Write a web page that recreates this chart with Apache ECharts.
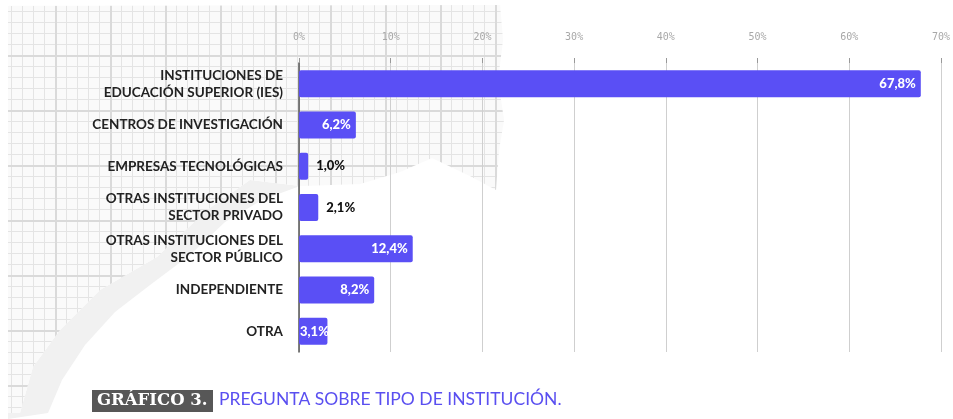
<!DOCTYPE html>
<html>
<head>
<meta charset="utf-8">
<script src="https://cdn.jsdelivr.net/npm/echarts@6/dist/echarts.min.js"></script>
<style>html,body{margin:0;padding:0;background:#fff;}#c{width:953px;height:419px;}</style>
</head>
<body>
<div id="c"></div>
<script>
const categories = [
  "INSTITUCIONES DE\nEDUCACIÓN SUPERIOR (IES)",
  "CENTROS DE INVESTIGACIÓN",
  "EMPRESAS TECNOLÓGICAS",
  "OTRAS INSTITUCIONES DEL\nSECTOR PRIVADO",
  "OTRAS INSTITUCIONES DEL\nSECTOR PÚBLICO",
  "INDEPENDIENTE",
  "OTRA"
];
const values = [67.8, 6.2, 1.0, 2.1, 12.4, 8.2, 3.1];
const labelPlacement = ['insideRight', 'insideRight', 'right', 'right', 'insideRight', 'insideRight', 'insideLeft'];
const tickValues = [0, 10, 20, 30, 40, 50, 60, 70];
const captionTag = "GRÁFICO 3.";
const captionText = "PREGUNTA SOBRE TIPO DE INSTITUCIÓN.";

// grid-paper pattern
const tile = document.createElement('canvas');
tile.width = 55; tile.height = 55;
const g = tile.getContext('2d');
g.fillStyle = '#fafafa'; g.fillRect(0,0,55,55);
g.fillStyle = '#e4e4e4';
for (let i = 0; i < 5; i++) { g.fillRect(i*11, 0, 1, 55); g.fillRect(0, i*11, 55, 1); }
g.fillStyle = '#dadada';
g.fillRect(0,0,2,55); g.fillRect(0,0,55,2);

const paperPts = [[8,6],[500,5],[503,40],[498,80],[504,120],[499,150],[496,190],[470,176],[432,158],[400,172],[360,184],[300,186],[250,180],[207,210],[157,257],[100,290],[60,330],[33,367],[20,413],[8,413]];
const crumplePts = [[8,413],[20,413],[33,367],[60,330],[100,290],[157,257],[207,210],[250,180],[300,186],[262,200],[225,222],[190,255],[150,285],[115,312],[85,345],[62,380],[48,413],[8,419]];

const labelFont = {fontFamily: 'Lato', fontWeight: 900, fontSize: 13};

const chart = echarts.init(document.getElementById('c'), null, {renderer: 'canvas'});
chart.setOption({
  backgroundColor: '#ffffff',
  animation: false,
  graphic: [
    {type: 'polygon', z: -20, shape: {points: crumplePts}, style: {fill: '#f1f1f1'}, silent: true},
    {type: 'polygon', z: -10, shape: {points: paperPts}, style: {fill: {image: tile, repeat: 'repeat'}}, silent: true},
    {type: 'rect', left: 92, top: 390, z: 10, shape: {width: 121, height: 22}, style: {fill: '#575757'}},
    {type: 'text', left: 97, top: 392, z: 11, style: {text: captionTag, fill: '#ffffff', font: 'bold 16.5px "DejaVu Serif"'}},
    {type: 'text', left: 219, top: 390, z: 11, style: {text: captionText, fill: '#5a4ff0', font: '17.5px Lato'}}
  ],
  grid: {left: 299, right: 6, top: 63, bottom: 67, containLabel: false},
  xAxis: {
    type: 'value', position: 'top', min: 0, max: 70, interval: 10,
    axisLine: {show: false},
    axisTick: {show: true, length: 5, lineStyle: {color: '#999'}},
    axisLabel: {margin: 21, color: '#a8a8a8', fontFamily: 'DejaVu Sans Mono', fontSize: 10,
      formatter: v => tickValues.includes(v) ? v + '%' : ''},
    splitLine: {show: true, lineStyle: {color: '#cfcfcf', width: 1}}
  },
  yAxis: {
    type: 'category', data: categories, inverse: true,
    axisLine: {show: true, lineStyle: {color: '#555', width: 1.5}},
    axisTick: {show: false},
    axisLabel: {margin: 16, color: '#222', fontFamily: 'Lato', fontWeight: 'bold', fontSize: 13.5, lineHeight: 17, align: 'right'}
  },
  series: [{
    type: 'bar',
    data: values.map((v, i) => ({
      value: v,
      label: labelPlacement[i] === 'right'
        ? {position: 'right', distance: 8, color: '#111'}
        : {position: labelPlacement[i], distance: labelPlacement[i] === 'insideLeft' ? 1 : 5, color: '#fff'}
    })),
    barWidth: 27,
    itemStyle: {color: '#5a4ff5', borderRadius: 2},
    label: Object.assign({show: true, formatter: p => p.value.toFixed(1).replace('.', ',') + '%'}, labelFont)
  }]
});
</script>
</body>
</html>
